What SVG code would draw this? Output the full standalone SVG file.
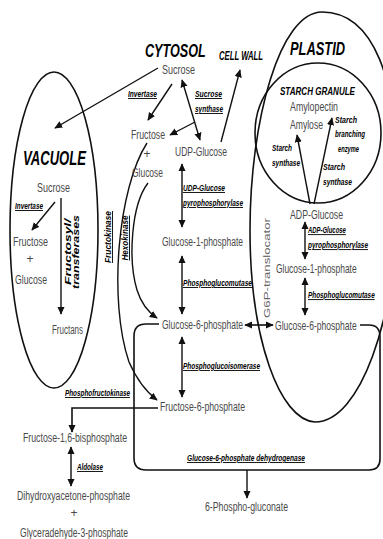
<svg xmlns="http://www.w3.org/2000/svg" width="383" height="539" viewBox="0 0 383 539">
<defs>
<marker id="a" viewBox="0 0 10 10" refX="9" refY="5" markerWidth="8" markerHeight="8" markerUnits="userSpaceOnUse" orient="auto-start-reverse"><path d="M0,0.5 L10,5 L0,9.5 z" fill="#111"/></marker>
<style>
.m{font-family:"Liberation Sans",Arial,sans-serif;font-size:12px;fill:#4a4a4a}
.e{font-family:"Liberation Sans",Arial,sans-serif;font-size:9px;font-weight:bold;font-style:italic;text-decoration:underline;fill:#000}
.s{font-family:"Liberation Sans",Arial,sans-serif;font-size:9px;font-weight:bold;font-style:italic;fill:#000}
.h{font-family:"Liberation Sans",Arial,sans-serif;font-weight:bold;font-style:italic;fill:#000}
.c{stroke:#111;stroke-width:1.4;fill:none}
.b{stroke:#111;stroke-width:1.6;fill:none}
.t{font-family:"Liberation Sans",Arial,sans-serif;font-size:9px;fill:#666}
</style>
</defs>
<rect width="383" height="539" fill="#fff"/>

<g id="compartments">
<ellipse id="vacuole" cx="54" cy="230" rx="44" ry="158" class="b"/>
<path id="plastid" d="M315 422 C280 420 250 340 250 230 C250 120 280 12 322 12 C372 12 400 75 398 200 C396 320 360 422 315 422 Z" class="b"/>
<ellipse id="granule" cx="318" cy="133" rx="63" ry="70" class="b"/>
</g>

<g id="connectors">
<line x1="158" y1="68" x2="55" y2="128" class="c" marker-end="url(#a)"/>
<line x1="172" y1="84" x2="148" y2="120" class="c" marker-end="url(#a)"/>
<line x1="182" y1="80" x2="200" y2="140" class="c" marker-start="url(#a)" marker-end="url(#a)"/>
<line x1="195" y1="122" x2="170" y2="135" class="c" marker-end="url(#a)"/>
<line x1="221" y1="142" x2="240" y2="70" class="c" marker-end="url(#a)"/>
<line x1="182" y1="164" x2="182" y2="227" class="c" marker-start="url(#a)" marker-end="url(#a)"/>
<line x1="182" y1="256" x2="182" y2="314" class="c" marker-start="url(#a)" marker-end="url(#a)"/>
<line x1="182" y1="337" x2="182" y2="397" class="c" marker-start="url(#a)" marker-end="url(#a)"/>
<path d="M147 143 C118 188 108 300 129 362 C137 380 145 391 157 400" class="c" marker-end="url(#a)"/>
<path d="M148 183 C131 205 128 260 137 290 C141 303 148 312 157 318" class="c" marker-end="url(#a)"/>
<line x1="245" y1="325" x2="273" y2="325" class="b" marker-start="url(#a)" marker-end="url(#a)"/>
<line x1="305" y1="222" x2="305" y2="259" class="c" marker-start="url(#a)" marker-end="url(#a)"/>
<line x1="305" y1="278" x2="305" y2="315" class="c" marker-start="url(#a)" marker-end="url(#a)"/>
<line x1="310" y1="204" x2="297" y2="135" class="c" marker-end="url(#a)"/>
<line x1="314" y1="204" x2="332" y2="118" class="c" marker-end="url(#a)"/>
<line x1="55" y1="202" x2="32" y2="230" class="c" marker-end="url(#a)"/>
<line x1="61" y1="198" x2="61" y2="314" class="c" marker-end="url(#a)"/>
<path d="M158 408 L72 408 L72 432" class="b" stroke-width="2" marker-end="url(#a)"/>
<line x1="71" y1="447" x2="71" y2="486" class="c" marker-start="url(#a)" marker-end="url(#a)"/>
<path d="M360 325 L369 325 Q380 325 380 337 L380 459 Q380 470 369 470 L146 470 Q134 470 134 458 L134 336 Q134 324 146 324 L159 324" class="b" stroke-width="1.8"/>
<line x1="247" y1="470" x2="247" y2="498" class="c" marker-end="url(#a)"/>
</g>

<g id="labels">
<text class="h" transform="translate(145,57) scale(0.664,1)" font-size="19">CYTOSOL</text>
<text class="h" x="219" y="60" font-size="12" textLength="44" lengthAdjust="spacingAndGlyphs">CELL WALL</text>
<text class="h" x="290" y="55" font-size="19" textLength="55" lengthAdjust="spacingAndGlyphs">PLASTID</text>
<text class="h" x="23" y="165" font-size="21" textLength="63" lengthAdjust="spacingAndGlyphs">VACUOLE</text>
<text class="h" x="280" y="95" font-size="11" textLength="75" lengthAdjust="spacingAndGlyphs">STARCH GRANULE</text>
</g>

<g id="n-sucrose-cyt"><text class="m" x="162" y="74" textLength="33" lengthAdjust="spacingAndGlyphs">Sucrose</text></g>
<g id="n-fru-glc-cyt">
<text class="m" x="131" y="139" textLength="34" lengthAdjust="spacingAndGlyphs">Fructose</text>
<text class="m" x="147" y="158" text-anchor="middle" font-size="10">+</text>
<text class="m" x="132" y="177" textLength="31" lengthAdjust="spacingAndGlyphs">Glucose</text>
</g>
<g id="n-udpglc"><text class="m" x="175" y="156" textLength="52" lengthAdjust="spacingAndGlyphs">UDP-Glucose</text></g>
<g id="n-g1p-cyt"><text class="m" x="162" y="246" textLength="81" lengthAdjust="spacingAndGlyphs">Glucose-1-phosphate</text></g>
<g id="n-g6p-cyt"><text class="m" x="162" y="329" textLength="81" lengthAdjust="spacingAndGlyphs">Glucose-6-phosphate</text></g>
<g id="n-f6p"><text class="m" x="160" y="411" textLength="85" lengthAdjust="spacingAndGlyphs">Fructose-6-phosphate</text></g>
<g id="n-f16bp"><text class="m" x="23" y="442" textLength="104" lengthAdjust="spacingAndGlyphs">Fructose-1,6-bisphosphate</text></g>
<g id="n-triose">
<text class="m" x="17" y="500" textLength="113" lengthAdjust="spacingAndGlyphs">Dihydroxyacetone-phosphate</text>
<text class="m" x="74" y="517" text-anchor="middle" font-size="10">+</text>
<text class="m" x="20" y="537" textLength="108" lengthAdjust="spacingAndGlyphs">Glyceradehyde-3-phosphate</text>
</g>
<g id="n-6pg"><text class="m" x="205" y="511" textLength="83" lengthAdjust="spacingAndGlyphs">6-Phospho-gluconate</text></g>
<g id="n-vac">
<text class="m" x="37" y="192" textLength="33" lengthAdjust="spacingAndGlyphs">Sucrose</text>
<text class="m" x="13" y="246" textLength="35" lengthAdjust="spacingAndGlyphs">Fructose</text>
<text class="m" x="30" y="263" text-anchor="middle" font-size="10">+</text>
<text class="m" x="15" y="284" textLength="32" lengthAdjust="spacingAndGlyphs">Glucose</text>
<text class="m" x="52" y="334" textLength="31" lengthAdjust="spacingAndGlyphs">Fructans</text>
</g>
<g id="n-starch">
<text class="m" x="290" y="111" textLength="48" lengthAdjust="spacingAndGlyphs">Amylopectin</text>
<text class="m" x="290" y="129" textLength="33" lengthAdjust="spacingAndGlyphs">Amylose</text>
</g>
<g id="n-adpglc"><text class="m" x="290" y="219" textLength="53" lengthAdjust="spacingAndGlyphs">ADP-Glucose</text></g>
<g id="n-g1p-pl"><text class="m" transform="translate(276,273) scale(0.704,1)">Glucose-1-phosphate</text></g>
<g id="n-g6p-pl"><text class="m" transform="translate(275,330) scale(0.713,1)">Glucose-6-phosphate</text></g>

<g id="enzymes">
<text class="e" x="128" y="97" textLength="29" lengthAdjust="spacingAndGlyphs">Invertase</text>
<text class="e" x="195" y="97" textLength="27" lengthAdjust="spacingAndGlyphs">Sucrose</text>
<text class="e" x="195" y="112" textLength="28" lengthAdjust="spacingAndGlyphs">synthase</text>
<text class="e" x="183" y="191" textLength="42" lengthAdjust="spacingAndGlyphs">UDP-Glucose</text>
<text class="e" x="183" y="206" textLength="60" lengthAdjust="spacingAndGlyphs">pyrophosphorylase</text>
<text class="e" x="183" y="286" textLength="69" lengthAdjust="spacingAndGlyphs">Phosphoglucomutase</text>
<text class="e" x="183" y="369" textLength="77" lengthAdjust="spacingAndGlyphs">Phosphoglucoisomerase</text>
<text class="e" x="65" y="396" textLength="65" lengthAdjust="spacingAndGlyphs">Phosphofructokinase</text>
<text class="e" x="77" y="470" textLength="26" lengthAdjust="spacingAndGlyphs">Aldolase</text>
<text class="e" x="187" y="461" textLength="118" lengthAdjust="spacingAndGlyphs">Glucose-6-phosphate dehydrogenase</text>
<text class="e" transform="translate(308,233) scale(0.66,1)">ADP-Glucose</text>
<text class="e" transform="translate(308,248) scale(0.72,1)">pyrophosphorylase</text>
<text class="e" transform="translate(308,298) scale(0.71,1)">Phosphoglucomutase</text>
<text class="e" x="15" y="209" textLength="28" lengthAdjust="spacingAndGlyphs">Invertase</text>
<text class="s" x="272" y="151" textLength="20" lengthAdjust="spacingAndGlyphs">Starch</text>
<text class="s" x="272" y="166" textLength="28" lengthAdjust="spacingAndGlyphs">synthase</text>
<text class="s" x="335" y="123" textLength="22" lengthAdjust="spacingAndGlyphs">Starch</text>
<text class="s" x="335" y="137" textLength="30" lengthAdjust="spacingAndGlyphs">branching</text>
<text class="s" x="338" y="152" textLength="21" lengthAdjust="spacingAndGlyphs">enzyme</text>
<text class="s" x="323" y="170" textLength="22" lengthAdjust="spacingAndGlyphs">Starch</text>
<text class="s" x="323" y="185" textLength="29" lengthAdjust="spacingAndGlyphs">synthase</text>
<text class="e" transform="translate(111,237) rotate(-90)" text-anchor="middle" textLength="52" lengthAdjust="spacingAndGlyphs">Fructokinase</text>
<text class="e" transform="translate(128,238) rotate(-90)" text-anchor="middle" textLength="45" lengthAdjust="spacingAndGlyphs">Hexokinase</text>
<text class="s" transform="translate(70.5,252) rotate(-90)" text-anchor="middle" textLength="66" lengthAdjust="spacingAndGlyphs">Fructosyl/</text>
<text class="s" transform="translate(78.5,252) rotate(-90)" text-anchor="middle" textLength="74" lengthAdjust="spacingAndGlyphs">transferases</text>
<text class="t" transform="translate(269.5,268) rotate(-90)" text-anchor="middle" textLength="100" lengthAdjust="spacingAndGlyphs">G6P-translocator</text>
</g>
</svg>
